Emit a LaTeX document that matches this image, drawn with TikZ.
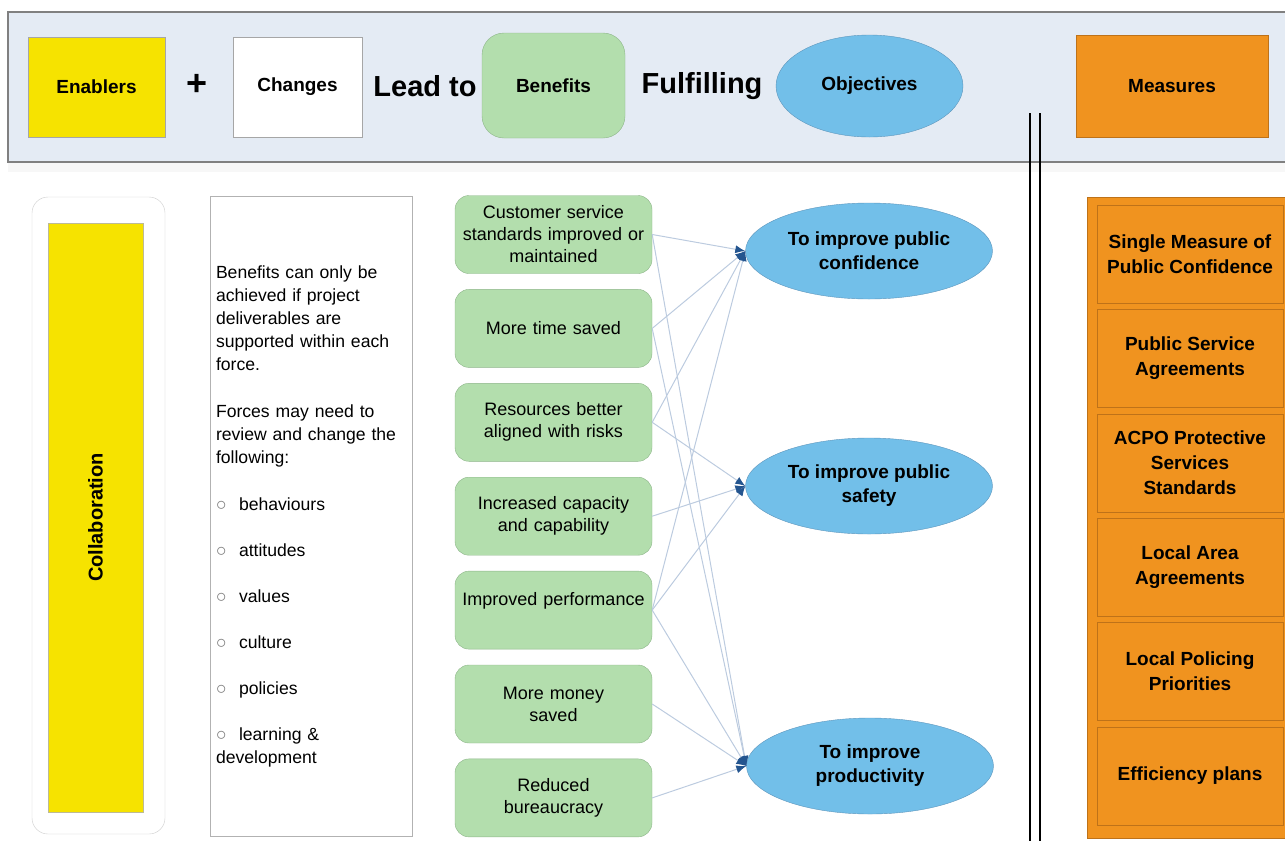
\documentclass[tikz,border=0pt]{standalone}
\usepackage{fontspec}
\setmainfont{Liberation Sans}
\usetikzlibrary{arrows.meta,positioning,shapes.geometric}
\definecolor{bandfill}{HTML}{E4EBF4}
\definecolor{enabyellow}{HTML}{F6E300}
\definecolor{benefgreen}{HTML}{B3DEAD}
\definecolor{benefedge}{HTML}{8DB589}
\definecolor{objblue}{HTML}{72BFE9}
\definecolor{objedge}{HTML}{5E96BC}
\definecolor{measorange}{HTML}{F0931F}
\definecolor{measedge}{HTML}{BE7219}
\definecolor{linkblue}{HTML}{BCCBDF}
\definecolor{tipblue}{HTML}{24558F}
\tikzset{
  hdrbox/.style    = {draw=gray!70, rectangle, minimum width=137pt, minimum height=100pt,
                      font=\fontsize{19}{23}\selectfont\bfseries},
  hdrword/.style   = {font=\fontsize{29}{34}\selectfont\bfseries},
  benefit/.style   = {draw=benefedge, fill=benefgreen, rounded corners=14pt, minimum width=197pt,
                      minimum height=78pt, text width=187pt, align=center,
                      font=\fontsize{18}{22}\selectfont, node distance=15.5pt},
  objective/.style = {draw=objedge, fill=objblue, ellipse, minimum width=247pt, minimum height=96pt,
                      align=center, font=\fontsize{19}{24}\selectfont\bfseries},
  measure/.style   = {draw=measedge, rectangle, minimum width=186pt, minimum height=98pt,
                      align=center, font=\fontsize{19}{25}\selectfont\bfseries, node distance=6pt},
  pre/.style       = {{Latex[length=10pt,width=8pt,color=tipblue]}-, draw=linkblue, line width=1pt}
}
\newcommand{\itemring}{\makebox[23pt][l]{\color{gray}\fontsize{21}{23}\selectfont$\circ$}}

\begin{document}
\begin{tikzpicture}[x=1pt,y=-1pt]
  \useasboundingbox (0,0) rectangle (1285,841);
  % header band
  \fill[bandfill] (8,12) rectangle (1285,162);
  \fill[gray!6] (8,163) rectangle (1285,172);
  \draw[gray, line width=1.5pt] (1285,12) -- (8,12) -- (8,162) -- (1285,162);
  \node[hdrbox, fill=enabyellow] (enab) at (96.5,87) {Enablers};
  \node[hdrword, font=\fontsize{36}{40}\selectfont\bfseries] (plus) at (197,85) {+};
  \node[hdrbox, fill=white, minimum width=129pt] (chg) at (297.5,87) {Changes};
  \node[hdrword] (leadto) at (425,86) {Lead to};
  \node[hdrbox, draw=benefedge, fill=benefgreen, rounded corners=22pt, minimum width=143pt,
        minimum height=105pt] (benef) at (553.5,85.5) {Benefits};
  \node[hdrword] (fulfil) at (702,86) {Fulfilling};
  \node[hdrbox, ellipse, draw=objedge, fill=objblue, minimum width=187pt,
        minimum height=102pt] (obj) at (869.5,86) {Objectives};
  \node[hdrbox, draw=measedge, fill=measorange, minimum width=192pt,
        minimum height=102pt] (meas) at (1172,86) {Measures};

  % divider
  \draw[line width=2.8pt] (1030,113) -- (1030,841);
  \draw[line width=2.8pt] (1040,113) -- (1040,841);

  % enablers and changes
  \node[draw=gray!40, fill=white, rounded corners=16pt, minimum width=133pt,
        minimum height=637pt] (collabout) at (98.5,515.5) {};
  \node[draw=yellow!40!black!50, fill=enabyellow, rotate=90, minimum width=589pt, minimum height=95pt,
        font=\fontsize{20}{24}\selectfont\bfseries] (collab) at (95.5,517.5) {Collaboration};
  \node[draw=gray!60, minimum width=202pt, minimum height=640pt, text width=190pt, inner xsep=6pt,
        align=left, font=\fontsize{17.6}{23}\selectfont] (chgtext) at (311,516) {%
    Benefits can only be\\achieved if project\\deliverables are\\supported within each\\force.\\[24pt]
    Forces may need to\\review and change the\\following:\\[24pt]
    \itemring behaviours\\[23pt]
    \itemring attitudes\\[23pt]
    \itemring values\\[23pt]
    \itemring culture\\[23pt]
    \itemring policies\\[23pt]
    \itemring learning \&\\development};

  % benefits
  \node[benefit] (b1) at (553.5,234.5) {Customer service\\standards improved or\\maintained};
  \node[benefit, below=of b1] (b2) {More time saved};
  \node[benefit, below=of b2] (b3) {Resources better\\aligned with risks};
  \node[benefit, below=of b3] (b4) {Increased capacity\\and capability};
  \node[benefit, below=of b4] (b5) {Improved performance\\\mbox{}};
  \node[benefit, below=of b5] (b6) {More money\\saved};
  \node[benefit, below=of b6] (b7) {Reduced\\bureaucracy};

  % objectives
  \node[objective] (conf) at (869,251) {To improve public\\confidence};
  \node[objective] (safe) at (869,486) {To improve public\\safety};
  \node[objective] (prod) at (870,766) {To improve\\productivity};

  \path (conf.west) edge[pre] (b1.east) edge[pre] (b2.east) edge[pre] (b3.east) edge[pre] (b5.east);
  \path (safe.west) edge[pre] (b3.east) edge[pre] (b4.east) edge[pre] (b5.east);
  \path (prod.west) edge[pre] (b1.east) edge[pre] (b2.east) edge[pre] (b5.east)
                    edge[pre] (b6.east) edge[pre] (b7.east);

  % measures
  \node[draw=measedge, fill=measorange, minimum width=198pt, minimum height=641pt] (meascol) at (1186,517.5) {};
  \node[measure] (m1) at (1190,254) {Single Measure of\\Public Confidence};
  \node[measure, below=of m1] (m2) {Public Service\\Agreements};
  \node[measure, below=of m2] (m3) {ACPO Protective\\Services\\Standards};
  \node[measure, below=of m3] (m4) {Local Area\\Agreements};
  \node[measure, below=of m4] (m5) {Local Policing\\Priorities};
  \node[measure, below=of m5] (m6) {Efficiency plans};
\end{tikzpicture}
\end{document}
